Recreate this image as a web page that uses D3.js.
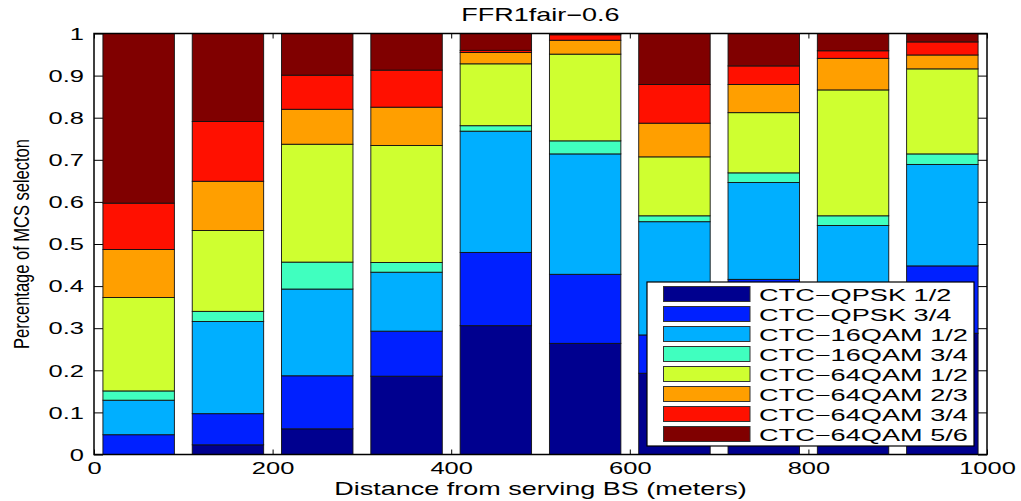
<!DOCTYPE html>
<html>
<head>
<meta charset="utf-8">
<script src="https://cdn.jsdelivr.net/npm/d3@7"></script>
<style>
  body { margin: 0; background: #fff; }
  svg { display: block; font-family: "Liberation Sans", Arial, Helvetica, sans-serif; }
</style>
</head>
<body>
<svg id="chart" width="1021" height="501"></svg>
<script>
// distances (bar centres, meters)
const distances = [50, 150, 250, 350, 450, 550, 650, 750, 850, 950];

const mcsNames = [
  'CTC−QPSK 1/2', 'CTC−QPSK 3/4', 'CTC−16QAM 1/2', 'CTC−16QAM 3/4',
  'CTC−64QAM 1/2', 'CTC−64QAM 2/3', 'CTC−64QAM 3/4', 'CTC−64QAM 5/6'
];

// share of each MCS per distance bin
const qpsk12   = [0.000, 0.023, 0.061, 0.186, 0.306, 0.264, 0.193, 0.250, 0.220, 0.288];
const qpsk34   = [0.047, 0.074, 0.126, 0.107, 0.174, 0.164, 0.091, 0.166, 0.160, 0.160];
const qam16_12 = [0.082, 0.219, 0.206, 0.140, 0.288, 0.286, 0.269, 0.230, 0.164, 0.241];
const qam16_34 = [0.022, 0.024, 0.064, 0.023, 0.013, 0.031, 0.014, 0.023, 0.023, 0.025];
const qam64_12 = [0.222, 0.192, 0.280, 0.278, 0.147, 0.206, 0.140, 0.143, 0.299, 0.202];
const qam64_23 = [0.114, 0.117, 0.083, 0.091, 0.027, 0.033, 0.080, 0.067, 0.075, 0.033];
const qam64_34 = [0.110, 0.142, 0.081, 0.088, 0.005, 0.013, 0.092, 0.044, 0.018, 0.031];
const qam64_56 = [0.403, 0.209, 0.099, 0.087, 0.040, 0.003, 0.121, 0.077, 0.041, 0.020];

const xTicks = [0, 200, 400, 600, 800, 1000];
const yTicks = [0, 0.1, 0.2, 0.3, 0.4, 0.5, 0.6, 0.7, 0.8, 0.9, 1];

const series = [qpsk12, qpsk34, qam16_12, qam16_34, qam64_12, qam64_23, qam64_34, qam64_56];
const colors = ['#00008f', '#0020ff', '#00afff', '#40ffbf', '#cfff30', '#ff9f00', '#ff1000', '#800000'];

const table = distances.map((d, i) => {
  const row = { dist: d };
  mcsNames.forEach((n, k) => { row[n] = series[k][i]; });
  return row;
});

const margin = { left: 94, top: 33.5, right: 34, bottom: 46.5 };
const width = 1021 - margin.left - margin.right;
const height = 501 - margin.top - margin.bottom;
const sx = 1.5; // the fonts in the figure are stretched horizontally

const svg = d3.select('#chart');
const g = svg.append('g').attr('transform', `translate(${margin.left},${margin.top})`);

const x = d3.scaleLinear().domain([0, 1000]).range([0, width]);
const y = d3.scaleLinear().domain([0, 1]).range([height, 0]);

// axes (ticks point inward)
const bottomAx = g.append('g')
  .attr('transform', `translate(0,${height})`)
  .call(d3.axisBottom(x).tickValues(xTicks).tickSizeInner(-5).tickSizeOuter(0).tickFormat(d3.format('d')));
bottomAx.selectAll('text')
  .attr('y', null).attr('dy', null)
  .attr('transform', 'translate(0,19.5) scale(' + sx + ',1)');

g.append('g')
  .call(d3.axisTop(x).tickValues(xTicks).tickSizeInner(-5).tickSizeOuter(0).tickFormat(''));

const leftAx = g.append('g')
  .call(d3.axisLeft(y).tickValues(yTicks).tickSizeInner(-9).tickSizeOuter(0).tickFormat(d3.format('')));
leftAx.selectAll('text')
  .attr('x', null).attr('dy', '0.34em')
  .attr('transform', 'translate(-10,0) scale(' + sx + ',1)');

g.append('g')
  .attr('transform', `translate(${width},0)`)
  .call(d3.axisRight(y).tickValues(yTicks).tickSizeInner(-9).tickSizeOuter(0).tickFormat(''));

g.selectAll('.domain').remove();
g.selectAll('.tick line').attr('stroke', '#000');
g.selectAll('.tick text').attr('font-size', 17).attr('fill', '#000')
  .style('font-family', '"Liberation Sans", Arial, Helvetica, sans-serif');

// stacked bars
const stack = d3.stack().keys(mcsNames)(table);
const barW = x(80) - x(0);

g.selectAll('g.layer')
  .data(stack)
  .join('g')
  .attr('class', 'layer')
  .attr('fill', (d, i) => colors[i])
  .selectAll('rect')
  .data(d => d)
  .join('rect')
  .attr('x', d => x(d.data.dist) - barW / 2)
  .attr('width', barW)
  .attr('y', d => y(d[1]))
  .attr('height', d => y(d[0]) - y(d[1]))
  .attr('stroke', '#111')
  .attr('stroke-width', 0.9);

// box
g.append('rect')
  .attr('width', width).attr('height', height)
  .attr('fill', 'none').attr('stroke', '#000').attr('stroke-width', 1.5);

// title and labels
svg.append('text')
  .attr('transform', `translate(${margin.left + width / 2},21) scale(${sx},1)`)
  .attr('text-anchor', 'middle').attr('font-size', 18)
  .text('FFR1fair−0.6');

svg.append('text')
  .attr('transform', `translate(${margin.left + width / 2},495) scale(${sx},1)`)
  .attr('text-anchor', 'middle').attr('font-size', 18)
  .text('Distance from serving BS (meters)');

svg.append('text')
  .attr('transform', `translate(29,${margin.top + height / 2}) scale(1.3,1) rotate(-90)`)
  .attr('text-anchor', 'middle').attr('font-size', 16.5)
  .text('Percentage of MCS selecton');

// legend
const legend = svg.append('g').attr('transform', 'translate(647,282)');
legend.append('rect')
  .attr('width', 327).attr('height', 164)
  .attr('fill', '#fff').attr('stroke', '#000').attr('stroke-width', 1.2);

const items = legend.selectAll('g.item')
  .data(mcsNames)
  .join('g')
  .attr('class', 'item')
  .attr('transform', (d, i) => `translate(0,${4.5 + i * 20})`);

items.append('rect')
  .attr('x', 16.5).attr('y', 0)
  .attr('width', 86.5).attr('height', 15)
  .attr('fill', (d, i) => colors[i])
  .attr('stroke', '#333').attr('stroke-width', 1);

items.append('text')
  .attr('transform', 'translate(112,14) scale(1.645,1)')
  .attr('font-size', 16.5)
  .text(d => d);
</script>
</body>
</html>
